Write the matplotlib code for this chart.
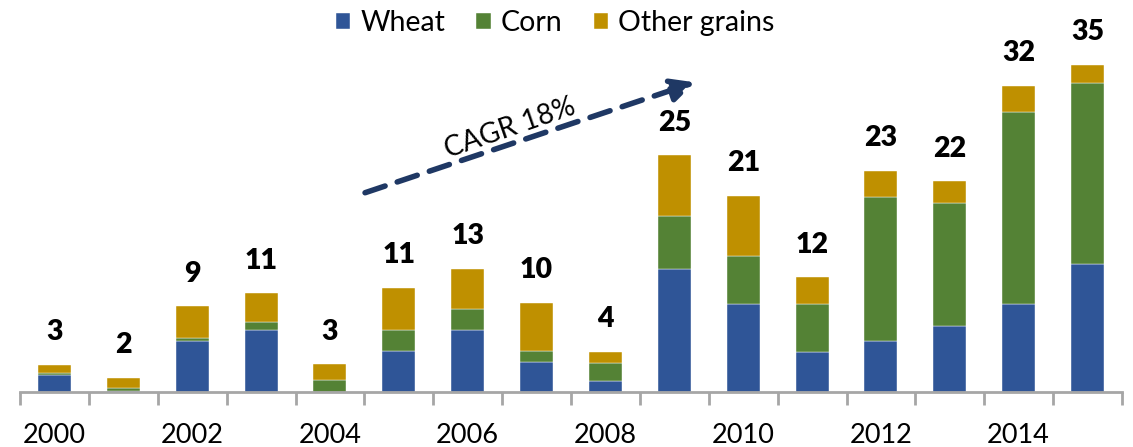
import matplotlib
matplotlib.use("Agg")
import matplotlib.pyplot as plt
import numpy as np

years = list(range(2000, 2016))
wheat = [1.8, 0.1, 5.5, 6.6, 0.05, 4.35, 6.6, 3.2, 1.15, 13.1, 9.4, 4.3, 5.4, 7.1, 9.4, 13.7]
corn = [0.25, 0.3, 0.25, 0.85, 1.2, 2.3, 2.3, 1.2, 2.0, 5.7, 5.1, 5.1, 15.4, 13.1, 20.5, 19.3]
other = [0.85, 1.14, 3.4, 3.1, 1.7, 4.5, 4.3, 5.1, 1.14, 6.5, 6.5, 2.85, 2.85, 2.3, 2.85, 2.0]
totals = [3, 2, 9, 11, 3, 11, 13, 10, 4, 25, 21, 12, 23, 22, 32, 35]
tick_years = [2000, 2002, 2004, 2006, 2008, 2010, 2012, 2014]

plt.rcParams['font.family'] = ['Lato', 'DejaVu Sans']

fig = plt.figure(figsize=(11.33, 4.47), dpi=100)
ax = fig.add_axes([20 / 1133, (447 - 392) / 447, 1102 / 1133, 392 / 447])

x = np.arange(len(years))
w = 0.48
wheat_a = np.array(wheat)
corn_a = np.array(corn)
other_a = np.array(other)
ax.bar(x, wheat_a, w, color='#2F5597', label='Wheat', edgecolor='white', linewidth=0.3)
ax.bar(x, corn_a, w, bottom=wheat_a, color='#548235', label='Corn', edgecolor='white', linewidth=0.3)
ax.bar(x, other_a, w, bottom=wheat_a + corn_a, color='#BF9000', label='Other grains',
       edgecolor='white', linewidth=0.3)

tops = wheat_a + corn_a + other_a
for xi, top, t in zip(x, tops, totals):
    ax.text(xi, top + 2.1, str(t), ha='center', va='bottom', fontsize=20.5, fontweight='heavy')

ax.set_xlim(-0.5, len(years) - 0.5)
ax.set_ylim(0, 41.9)

for s in ['top', 'right', 'left']:
    ax.spines[s].set_visible(False)
ax.spines['bottom'].set_color('#A6A6A6')
ax.spines['bottom'].set_linewidth(2)
ax.set_yticks([])

ax.set_xticks(np.arange(-0.5, len(years), 1.0), minor=True)
ax.tick_params(axis='x', which='minor', length=9, width=2, color='#A6A6A6', direction='out')
ax.set_xticks([years.index(y) for y in tick_years])
ax.set_xticklabels([str(y) for y in tick_years], fontsize=19.5)
ax.tick_params(axis='x', which='major', length=0, pad=22)

# CAGR arrow
ax.annotate('', xy=(9.3, 33.1), xytext=(4.51, 21.3),
            arrowprops=dict(arrowstyle='-|>,head_length=1.4,head_width=0.7', color='#1F3864',
                            lw=4, linestyle=(0, (3.8, 2.3)), shrinkA=0, shrinkB=0))
ax.text(6.62, 28.2, 'CAGR 18%', rotation=19, ha='center', va='center', fontsize=20,
        rotation_mode='anchor')

leg = fig.legend(loc='center', bbox_to_anchor=(555 / 1133, 1 - 23 / 447), ncol=3, frameon=False,
                 fontsize=20.5, handlelength=0.5, handleheight=0.5, handletextpad=0.35,
                 columnspacing=1.1)

fig.savefig('out.png', dpi=100)
